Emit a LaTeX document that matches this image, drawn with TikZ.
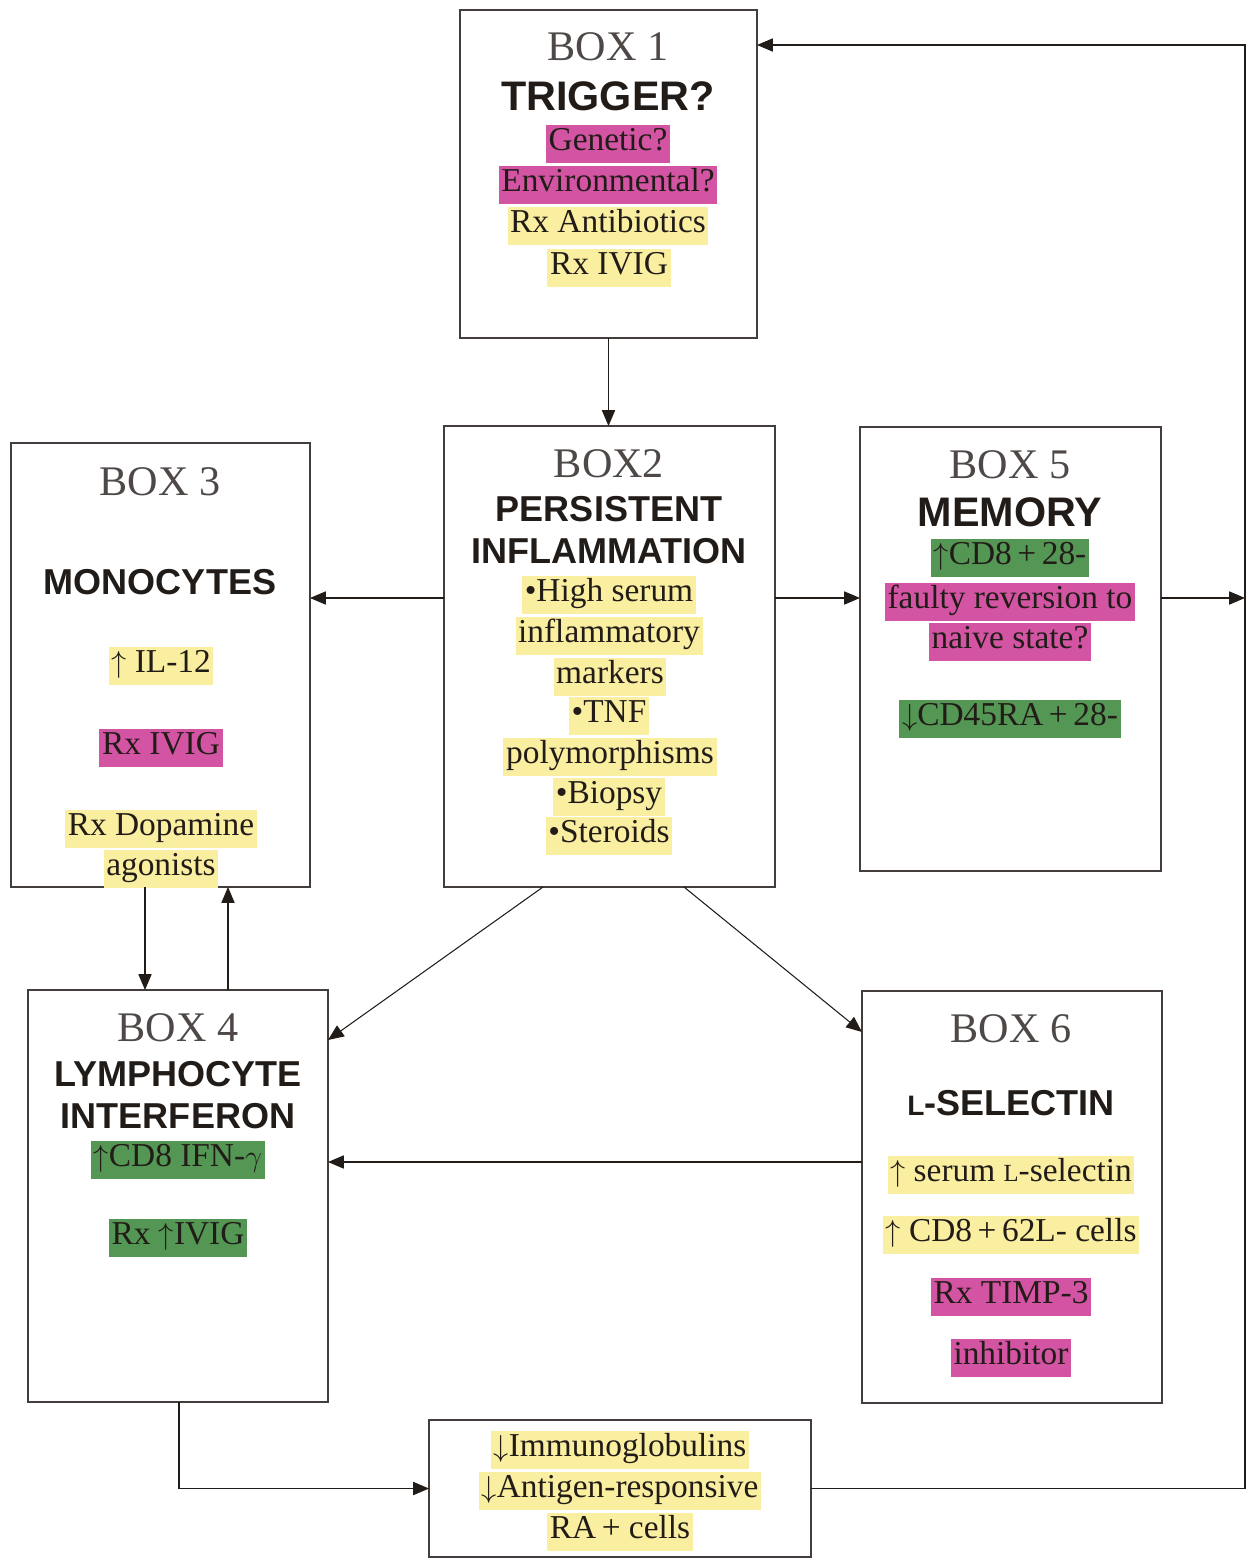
\documentclass[tikz,border=0pt]{standalone}
\usepackage{fontspec}
\setmainfont{Liberation Serif}
\setsansfont{Liberation Sans}
\usetikzlibrary{arrows.meta}
\definecolor{hlyellow}{RGB}{250,238,160}
\definecolor{hlpink}{RGB}{212,84,164}
\definecolor{hlgreen}{RGB}{84,150,84}
\definecolor{ink}{RGB}{34,28,24}
\tikzset{
  box/.style={draw=ink!85, line width=0.8pt, inner sep=0pt, outer sep=0pt},
  txt/.style={font=\fontsize{19}{23}\selectfont, text=ink, inner xsep=1.5pt, inner ysep=2pt, text height=12.5pt, text depth=5.5pt},
  hy/.style={txt, fill=hlyellow},
  hp/.style={txt, fill=hlpink},
  hg/.style={txt, fill=hlgreen},
  boxno/.style={font=\fontsize{24}{28}\selectfont, text=ink!80},
  head/.style={font=\sffamily\bfseries\fontsize{20.5}{24}\selectfont, text=ink},
  bighead/.style={font=\sffamily\bfseries\fontsize{23.5}{28}\selectfont, text=ink},
  arr/.style={-{Triangle[length=9pt,width=7.5pt]}, line width=0.6pt, draw=ink},
}
\begin{document}
\begin{tikzpicture}[x=0.2mm,y=-0.2mm]
	\useasboundingbox (0,0) rectangle (1247,1561);

	% the frames
	\node[box, minimum width=59.4mm, minimum height=65.6mm] (b1) at (608.5,174) {};
	\node[box, minimum width=66.2mm, minimum height=92.2mm] (b2) at (609.5,656.5) {};
	\node[box, minimum width=59.8mm, minimum height=88.8mm] (b3) at (160.5,665) {};
	\node[box, minimum width=60.2mm, minimum height=88.8mm] (b5) at (1010.5,649) {};
	\node[box, minimum width=60mm, minimum height=82.4mm] (b4) at (178,1196) {};
	\node[box, minimum width=60mm, minimum height=82.4mm] (b6) at (1012,1197) {};
	\node[box, minimum width=76.4mm, minimum height=27.4mm] (bot) at (620,1488.5) {};

	% box 1
	\node[boxno] (n1) at (608,47) {BOX 1};
	\node[bighead] (h1) at (608,96) {TRIGGER?};
	\node[hp] (t1a) at (608,144) {Genetic?};
	\node[hp] (t1b) at (608,185) {Environmental?};
	\node[hy] (t1c) at (608,226) {Rx Antibiotics};
	\node[hy] (t1d) at (609,268) {Rx IVIG};

	% box 2
	\node[boxno] (n2) at (609,464) {BOX2};
	\node[head] (h2a) at (609,509) {PERSISTENT};
	\node[head] (h2b) at (609,551) {INFLAMMATION};
	\node[hy] (t2a) at (609,595) {•High serum};
	\node[hy] (t2b) at (609,636) {inflammatory};
	\node[hy] (t2c) at (610,677) {markers};
	\node[hy] (t2d) at (609,716) {•TNF};
	\node[hy] (t2e) at (610,757) {polymorphisms};
	\node[hy] (t2f) at (609,797) {•Biopsy};
	\node[hy] (t2g) at (609,836) {•Steroids};

	% box 3
	\node[boxno] (n3) at (160,482) {BOX 3};
	\node[head] (h3) at (160,582) {MONOCYTES};
	\node[hy] (t3a) at (161,666) {$\uparrow$ IL-12};
	\node[hp] (t3b) at (161,748) {Rx IVIG};
	\node[hy] (t3c) at (161,829) {Rx Dopamine};
	\node[hy] (t3d) at (161,869) {agonists};

	% box 5
	\node[boxno] (n5) at (1010,465) {BOX 5};
	\node[bighead] (h5) at (1010,512) {MEMORY};
	\node[hg] (t5a) at (1010,558) {$\uparrow$CD8\,+\,28-};
	\node[hp] (t5b) at (1010,602) {faulty reversion to};
	\node[hp] (t5c) at (1010,642) {naive state?};
	\node[hg] (t5d) at (1010,719) {$\downarrow$CD45RA\,+\,28-};

	% box 4
	\node[boxno] (n4) at (178,1028) {BOX 4};
	\node[head] (h4a) at (178,1074) {LYMPHOCYTE};
	\node[head] (h4b) at (178,1116) {INTERFERON};
	\node[hg] (t4a) at (178,1160) {$\uparrow$CD8 IFN-$\gamma$};
	\node[hg] (t4b) at (178,1238) {Rx $\uparrow$IVIG};

	% box 6
	\node[boxno] (n6) at (1011,1029) {BOX 6};
	\node[head] (h6) at (1011,1103) {{\fontsize{16}{20}\selectfont L}-SELECTIN};
	\node[hy] (t6a) at (1011,1175) {$\uparrow$ serum {\fontsize{14}{20}\selectfont L}-selectin};
	\node[hy] (t6b) at (1011,1235) {$\uparrow$ CD8\,+\,62L- cells};
	\node[hp] (t6c) at (1011,1297) {Rx TIMP-3};
	\node[hp] (t6d) at (1011,1358) {inhibitor};

	% outcome box
	\node[hy] (t7a) at (620,1450) {$\downarrow$Immunoglobulins};
	\node[hy] (t7b) at (620,1491) {$\downarrow$Antigen-responsive};
	\node[hy] (t7c) at (620,1532) {RA\,+ cells};

	% feedback loop on the right
	\coordinate (rt) at (1245,45);
	\coordinate (r5) at (1245,598);

	\draw[arr] (b1.south) -- (b1.south |- b2.north);
	\draw[arr] (b2.west |- 0,598) -- (b3.east |- 0,598);
	\draw[arr] (b2.east |- 0,598) -- (b5.west |- 0,598);
	\draw[arr] (b5.east |- 0,598) -- (r5);
	\draw[arr] (bot.east) -- (bot.east -| rt) -- (rt) -- (b1.east |- rt);
	\draw[arr] (b3.south -| 145,0) -- (b4.north -| 145,0);
	\draw[arr] (b4.north -| 228,0) -- (b3.south -| 228,0);
	\draw[arr] (b2.south -| 543,0) -- (b4.east |- 0,1040);
	\draw[arr] (b2.south -| 684,0) -- (b6.west |- 0,1032);
	\draw[arr] (b6.west |- 0,1162) -- (b4.east |- 0,1162);
	\draw[arr] (b4.south -| 179,0) |- (bot.west);
\end{tikzpicture}
\end{document}
